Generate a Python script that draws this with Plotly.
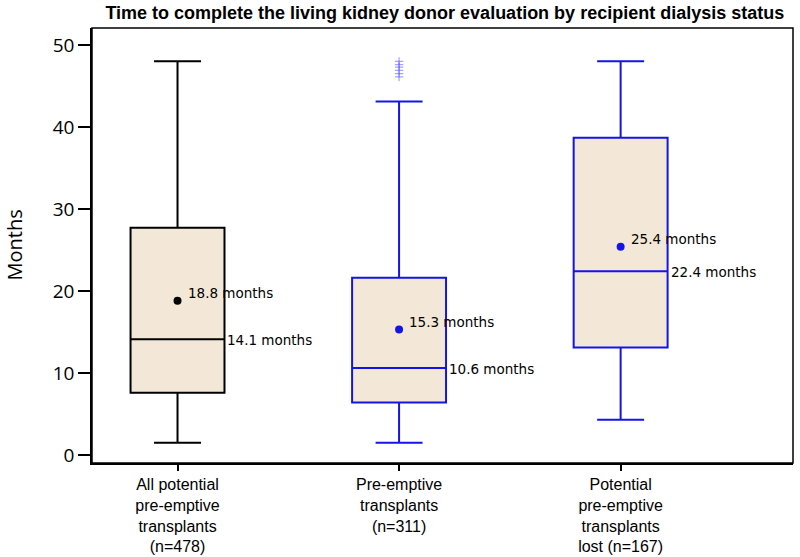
import plotly.graph_objects as go

categories = ["All potential<br>pre-emptive<br>transplants<br>(n=478)",
              "Pre-emptive<br>transplants<br>(n=311)",
              "Potential<br>pre-emptive<br>transplants<br>lost (n=167)"]
positions = [0, 1, 2]
lower_whisker = [1.5, 1.5, 4.3]
q1 = [7.6, 6.4, 13.1]
median = [14.1, 10.6, 22.4]
q3 = [27.7, 21.6, 38.7]
upper_whisker = [48.0, 43.1, 48.0]
means = [18.8, 15.3, 25.4]
line_colors = ["#000000", "#1414e6", "#1414e6"]
outliers_group2 = [46.1, 46.5, 46.9, 47.3, 47.6, 48.0]

box_width = 0.424
fill = "#f3e8d7"

fig = go.Figure()
for i, pos in enumerate(positions):
    fig.add_trace(go.Box(
        x=[pos], q1=[q1[i]], median=[median[i]], q3=[q3[i]],
        lowerfence=[lower_whisker[i]], upperfence=[upper_whisker[i]],
        width=box_width, whiskerwidth=0.5,
        fillcolor=fill, line=dict(color=line_colors[i], width=2),
        boxpoints=False, showlegend=False, hoverinfo="skip"))
    fig.add_trace(go.Scatter(
        x=[pos], y=[means[i]], mode="markers",
        marker=dict(color=line_colors[i], size=8),
        showlegend=False, hoverinfo="skip"))
    fig.add_annotation(x=pos, y=means[i], text=f"{means[i]:.1f} months",
                       showarrow=False, xanchor="left", yanchor="middle",
                       xshift=8, yshift=8,
                       font=dict(family="DejaVu Sans", size=13.5, color="black"))
    fig.add_annotation(x=pos + box_width / 2, y=median[i], text=f"{median[i]:.1f} months",
                       showarrow=False, xanchor="left", yanchor="middle",
                       xshift=1, yshift=-1,
                       font=dict(family="DejaVu Sans", size=13.5, color="black"))

fig.add_trace(go.Scatter(
    x=[positions[1]] * len(outliers_group2), y=outliers_group2, mode="markers",
    marker=dict(symbol="cross-thin", size=6,
                line=dict(color="rgba(90,90,255,0.55)", width=1.2)),
    showlegend=False, hoverinfo="skip"))

fig.add_shape(type="rect", xref="x domain", yref="y domain", x0=0, x1=1, y0=0, y1=1,
              line=dict(color="black", width=1.5), layer="above")

fig.add_annotation(xref="paper", yref="paper", x=0, y=0.5, xshift=-78,
                   text="Months", textangle=-90, showarrow=False,
                   xanchor="center", yanchor="middle",
                   font=dict(family="Open Sans", size=20, color="black"))

fig.update_layout(
    width=800, height=557,
    margin=dict(l=92, r=7, t=28, b=94),
    plot_bgcolor="white", paper_bgcolor="white",
    title=dict(text="<b>Time to complete the living kidney donor evaluation by recipient dialysis status</b>",
               x=0.556, xanchor="center", y=0.978, yanchor="middle",
               font=dict(family="Liberation Sans", size=18, color="black")),
    xaxis=dict(range=[-0.386, 2.778], tickmode="array", tickvals=positions,
               ticktext=categories, ticks="outside", ticklen=6, tickwidth=1.5,
               tickcolor="black", showline=True, linecolor="black", linewidth=1.5,
               showgrid=False, zeroline=False, automargin=False,
               tickfont=dict(family="Liberation Sans", size=16, color="black")),
    yaxis=dict(range=[-0.98, 52.07], tickvals=[0, 10, 20, 30, 40, 50],
               ticks="outside", ticklen=12, tickwidth=1.5, tickcolor="black",
               showline=True, linecolor="black", linewidth=1.5,
               showgrid=False, zeroline=False, automargin=False,
               tickfont=dict(family="Open Sans", size=19, color="black")),
)

fig.write_html("out.html", config={"displayModeBar": False},
               post_script="document.body.style.margin='0';")
